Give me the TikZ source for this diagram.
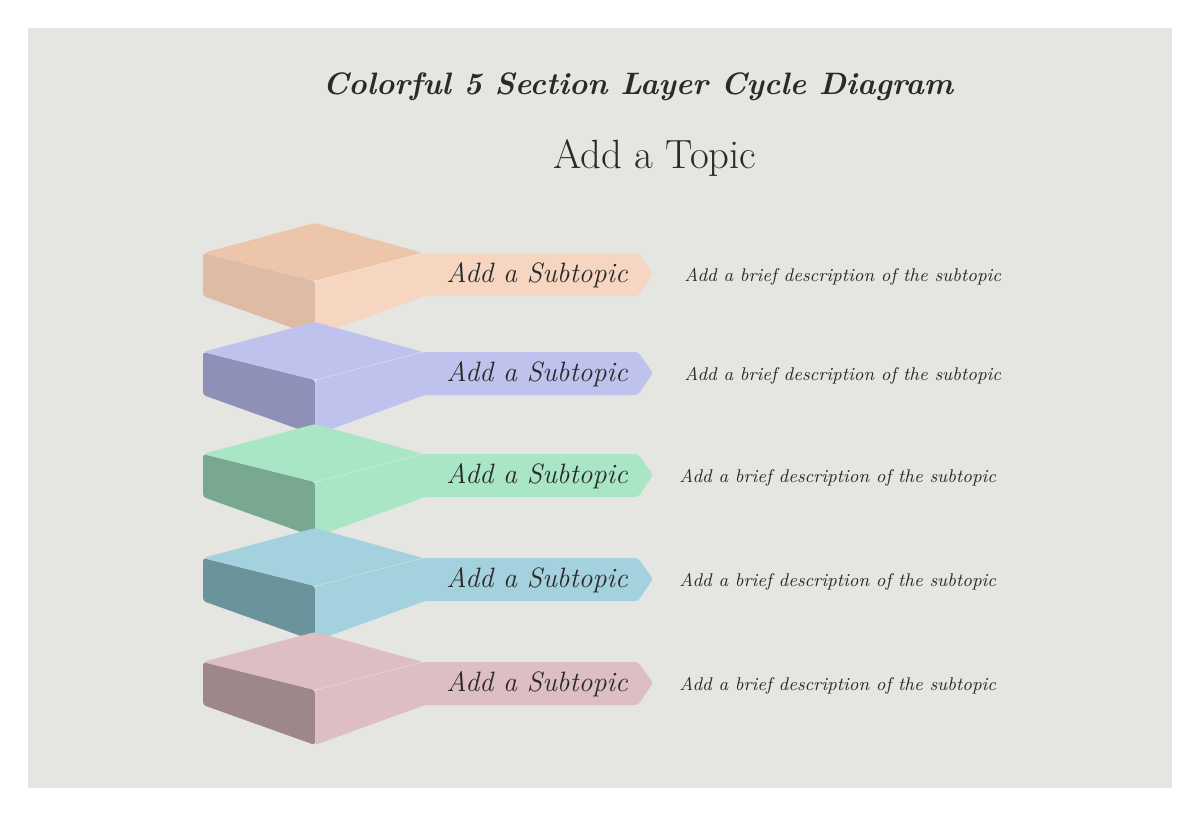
\documentclass[tikz,border=0pt]{standalone}
\usepackage{tikz}

\definecolor{paper}{HTML}{E5E5E1}
\definecolor{ink}{HTML}{2A2A2A}
\definecolor{peachtop}{HTML}{EDC5AB}
\definecolor{peachleft}{HTML}{DEBBA4}
\definecolor{peachright}{HTML}{F6D6C0}
\definecolor{bluetop}{HTML}{C0C2EE}
\definecolor{blueleft}{HTML}{8E90B8}
\definecolor{blueright}{HTML}{C0C2EE}
\definecolor{greentop}{HTML}{A8E6C5}
\definecolor{greenleft}{HTML}{78A890}
\definecolor{greenright}{HTML}{A8E6C5}
\definecolor{tealtop}{HTML}{A3D1DD}
\definecolor{tealleft}{HTML}{6B939C}
\definecolor{tealright}{HTML}{A3D1DD}
\definecolor{rosetop}{HTML}{DDBEC2}
\definecolor{roseleft}{HTML}{9E8788}
\definecolor{roseright}{HTML}{DDBEC2}

\tikzset{
  face/.style={line width=0pt,rounded corners=1.5},
  subtopic/.style={anchor=base,inner sep=0pt,text=ink,font=\fontsize{14}{16}\selectfont\itshape},
  brief/.style={anchor=base west,inner sep=0pt,text=ink,font=\fontsize{9.2}{11}\selectfont\itshape},
}

\begin{document}
\begin{tikzpicture}[x=0.5pt,y=-0.5pt]
\useasboundingbox (0,0) rectangle (1200,815);
\fill[white] (0,0) rectangle (1200,815);
\fill[paper] (28,28) rectangle (1172,788);

\node[anchor=base,inner sep=0pt,text=ink,font=\fontsize{15.5}{18}\selectfont\bfseries\itshape] (title) at (638,94) {Colorful 5 Section Layer Cycle Diagram};
\node[anchor=base,inner sep=0pt,text=ink,font=\fontsize{20.4}{24}\selectfont] (topic) at (655,168) {Add a Topic};

% layers, top to bottom
\foreach \i/\y/\c/\dx in {1/223/peach/684, 2/322/blue/684, 3/424/green/679, 4/528/teal/679, 5/632/rose/679}{
\begin{scope}[shift={(0,\y)}]
\fill[face,fill=\c left] (203,30) -- (315,58) -- (315,113) -- (203,73) -- cycle;
\fill[face,fill=\c top] (203,30) -- (315,0) -- (423,30) -- (315,58) -- cycle;
\fill[face,fill=\c right] (315,58) -- (423,30) -- (638,30) -- (653,51) -- (638,73) -- (425,73) -- (315,113) -- cycle;
\draw[white,opacity=0.25,line width=0.4pt] (315,58) -- (423,30);
\node[subtopic] (sub\i) at (537,59) {Add a Subtopic};
\node[brief] (desc\i) at (\dx,58) {Add a brief description of the subtopic};
\end{scope}
}
\end{tikzpicture}
\end{document}
